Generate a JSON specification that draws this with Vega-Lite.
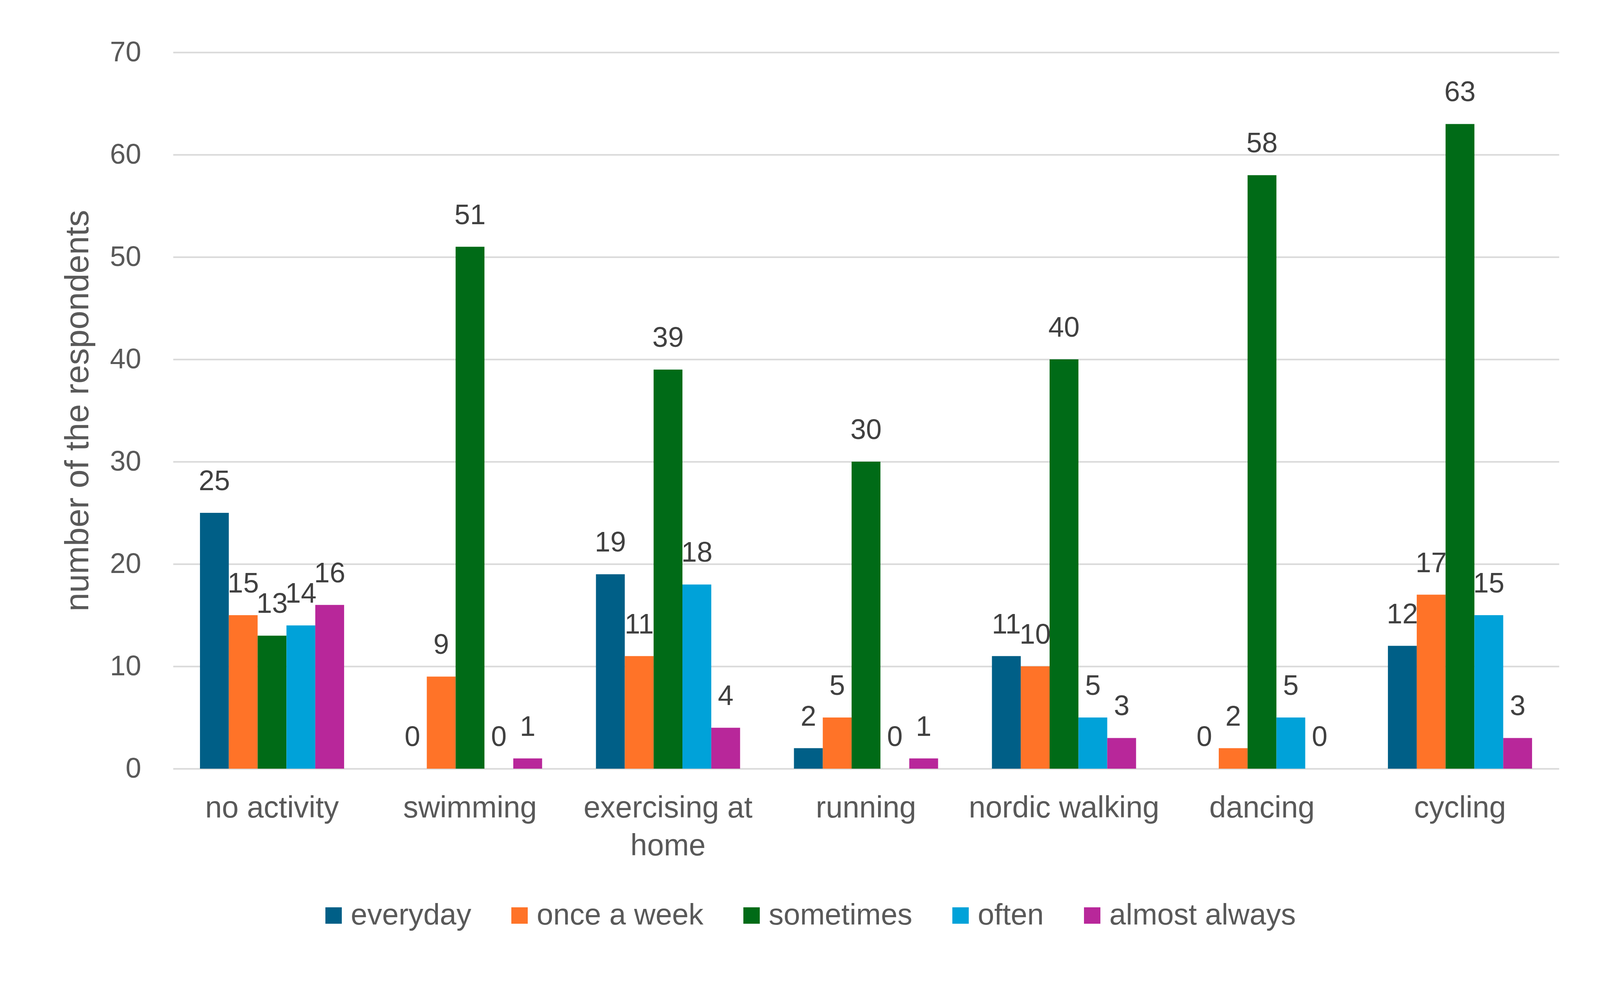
{
  "$schema": "https://vega.github.io/schema/vega-lite/v6.json",
  "description": "Physical activity frequency by type of activity, grouped bars with value labels.",
  "width": 3548,
  "height": 1834,
  "autosize": {"type": "none"},
  "padding": {"left": 443, "top": 134, "right": 130, "bottom": 559},
  "background": "white",
  "config": {
    "view": {"stroke": null},
    "font": "Liberation Sans"
  },
  "data": {
    "values": [
      {"activity": "no activity", "freq": "everyday", "n": 25},
      {"activity": "no activity", "freq": "once a week", "n": 15},
      {"activity": "no activity", "freq": "sometimes", "n": 13},
      {"activity": "no activity", "freq": "often", "n": 14},
      {"activity": "no activity", "freq": "almost always", "n": 16},
      {"activity": "swimming", "freq": "everyday", "n": 0},
      {"activity": "swimming", "freq": "once a week", "n": 9},
      {"activity": "swimming", "freq": "sometimes", "n": 51},
      {"activity": "swimming", "freq": "often", "n": 0},
      {"activity": "swimming", "freq": "almost always", "n": 1},
      {"activity": "exercising at home", "freq": "everyday", "n": 19},
      {"activity": "exercising at home", "freq": "once a week", "n": 11},
      {"activity": "exercising at home", "freq": "sometimes", "n": 39},
      {"activity": "exercising at home", "freq": "often", "n": 18},
      {"activity": "exercising at home", "freq": "almost always", "n": 4},
      {"activity": "running", "freq": "everyday", "n": 2},
      {"activity": "running", "freq": "once a week", "n": 5},
      {"activity": "running", "freq": "sometimes", "n": 30},
      {"activity": "running", "freq": "often", "n": 0},
      {"activity": "running", "freq": "almost always", "n": 1},
      {"activity": "nordic walking", "freq": "everyday", "n": 11},
      {"activity": "nordic walking", "freq": "once a week", "n": 10},
      {"activity": "nordic walking", "freq": "sometimes", "n": 40},
      {"activity": "nordic walking", "freq": "often", "n": 5},
      {"activity": "nordic walking", "freq": "almost always", "n": 3},
      {"activity": "dancing", "freq": "everyday", "n": 0},
      {"activity": "dancing", "freq": "once a week", "n": 2},
      {"activity": "dancing", "freq": "sometimes", "n": 58},
      {"activity": "dancing", "freq": "often", "n": 5},
      {"activity": "dancing", "freq": "almost always", "n": 0},
      {"activity": "cycling", "freq": "everyday", "n": 12},
      {"activity": "cycling", "freq": "once a week", "n": 17},
      {"activity": "cycling", "freq": "sometimes", "n": 63},
      {"activity": "cycling", "freq": "often", "n": 15},
      {"activity": "cycling", "freq": "almost always", "n": 3}
    ]
  },
  "encoding": {
    "x": {
      "field": "activity",
      "type": "nominal",
      "sort": ["no activity", "swimming", "exercising at home", "running", "nordic walking", "dancing", "cycling"],
      "scale": {"paddingInner": 0.272, "paddingOuter": 0.136},
      "axis": {
        "title": null,
        "labelAngle": 0,
        "labelFontSize": 77,
        "labelColor": "#595959",
        "labelBaseline": "alphabetic",
        "labelPadding": 124,
        "labelLineHeight": 97,
        "labelLimit": 0,
        "labelExpr": "datum.label == 'exercising at home' ? ['exercising at', 'home'] : datum.label",
        "ticks": false,
        "tickSize": 0,
        "domain": false,
        "grid": false
      }
    },
    "xOffset": {
      "field": "freq",
      "type": "nominal",
      "sort": ["everyday", "once a week", "sometimes", "often", "almost always"]
    },
    "y": {
      "field": "n",
      "type": "quantitative",
      "scale": {"domain": [0, 70], "nice": false},
      "axis": {
        "title": "number of the respondents",
        "titleFontSize": 86,
        "titleFontWeight": "normal",
        "titleColor": "#595959",
        "titleX": -244,
        "titleBaseline": "middle",
        "values": [0, 10, 20, 30, 40, 50, 60, 70],
        "labelFontSize": 72,
        "labelColor": "#595959",
        "labelPadding": 82,
        "ticks": false,
        "tickSize": 0,
        "domain": false,
        "grid": true,
        "gridColor": "#D9D9D9",
        "gridWidth": 4
      }
    }
  },
  "layer": [
    {
      "mark": {"type": "bar"},
      "encoding": {
        "color": {
          "field": "freq",
          "type": "nominal",
          "sort": ["everyday", "once a week", "sometimes", "often", "almost always"],
          "scale": {
            "domain": ["everyday", "once a week", "sometimes", "often", "almost always"],
            "range": ["#005F87", "#FF7328", "#006B17", "#00A2D9", "#B8279A"]
          },
          "legend": {
            "title": null,
            "orient": "none",
            "direction": "horizontal",
            "legendX": 373,
            "legendY": 2172,
            "padding": 0,
            "symbolType": "square",
            "symbolSize": 1764,
            "symbolStrokeWidth": 0,
            "labelFontSize": 76,
            "labelColor": "#595959",
            "labelOffset": 6,
            "labelLimit": 0,
            "columnPadding": 85
          }
        }
      }
    },
    {
      "mark": {
        "type": "text",
        "baseline": "alphabetic",
        "align": "center",
        "dy": -58,
        "fontSize": 72,
        "color": "#404040"
      },
      "encoding": {
        "text": {"field": "n", "type": "quantitative"}
      }
    }
  ]
}
